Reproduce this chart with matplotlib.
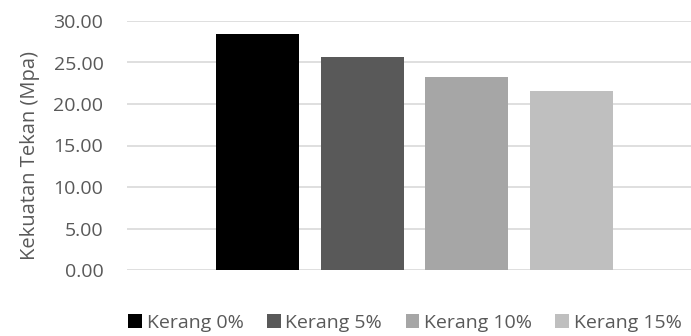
import matplotlib
matplotlib.use('Agg')
import matplotlib.pyplot as plt
from matplotlib.patches import Patch

# data
labels = ['Kerang 0%', 'Kerang 5%', 'Kerang 10%', 'Kerang 15%']
values = [28.4, 25.7, 23.2, 21.6]
colors = ['#000000', '#595959', '#a6a6a6', '#bfbfbf']
yticks = [0, 5, 10, 15, 20, 25, 30]

TEXT = '#595959'
FS = 14
plt.rcParams['font.family'] = ['Open Sans', 'DejaVu Sans']

fig = plt.figure(figsize=(6.91, 3.36), dpi=100)
ax = fig.add_axes([127 / 691, 66 / 336, 564 / 691, 249 / 336])

pos = list(range(len(values)))
ax.bar(pos, values, width=0.79, color=colors, zorder=3)

ax.set_xlim(-1.246, 4.141)
ax.set_ylim(0, 30)
ax.set_yticks(yticks)
ax.set_yticklabels([f'{v:.2f}' for v in yticks], fontsize=FS, color=TEXT)
ax.set_xticks([])
ax.tick_params(axis='y', length=0, pad=17)
ax.grid(axis='y', color='#d9d9d9', linewidth=1.2, zorder=0)
for s in ax.spines.values():
    s.set_visible(False)

fig.text(30 / 691, (336 - 155) / 336, 'Kekuatan Tekan (Mpa)', rotation=90,
         ha='center', va='center', fontsize=14.5, color=TEXT)

handles = [Patch(facecolor=c, edgecolor='none', label=l) for c, l in zip(colors, labels)]
fig.legend(handles=handles, loc='center', bbox_to_anchor=(405 / 691, 1 - 323 / 336),
           ncol=4, frameon=False, fontsize=FS, labelcolor=TEXT,
           handlelength=0.7, handleheight=0.7, handletextpad=0.25, columnspacing=1.2)

fig.savefig('out.png', dpi=100)
